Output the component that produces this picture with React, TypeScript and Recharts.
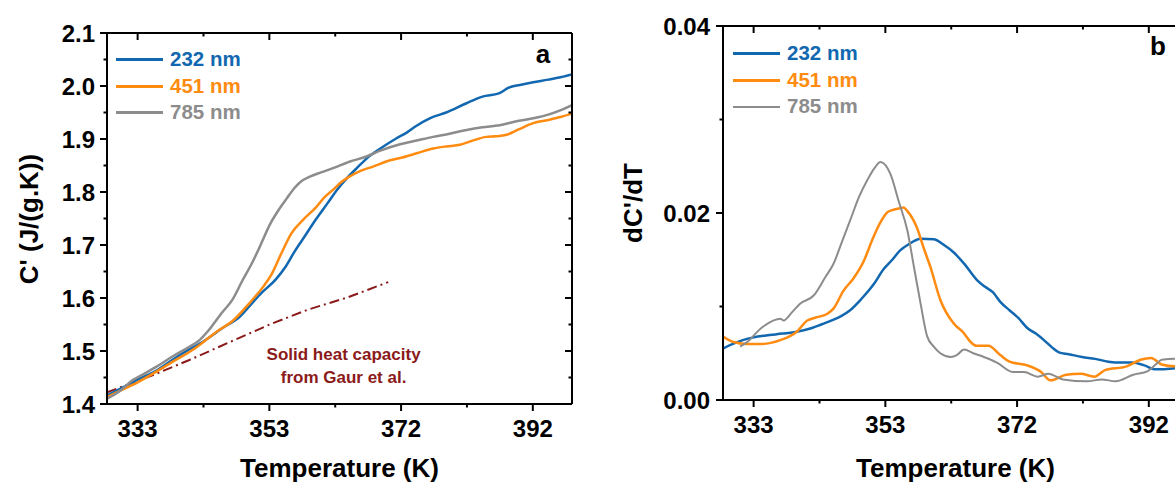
import React from 'react';
import { ComposedChart, Line, XAxis, YAxis, Legend, Customized } from 'recharts';

const FONT = '"Liberation Sans", Arial, sans-serif';
const BLUE = '#1268B0';
const ORANGE = '#FF8B10';
const GRAY = '#8C8C8C';
const DARKRED = '#8B1A1A';

const seriesNames = ['232 nm', '451 nm', '785 nm'];

// temperature axis (K): majors labelled, minors not
const tempDomain = [328.5, 399.1];
const tempMajor = [333.15, 353.15, 373.15, 393.15];
const tempMinor = [343.15, 363.15, 383.15];
const tempLabels = ['333', '353', '372', '392'];

const capMajor = [1.4, 1.5, 1.6, 1.7, 1.8, 1.9, 2.0, 2.1];
const capMinor = [1.45, 1.55, 1.65, 1.75, 1.85, 1.95, 2.05];

const derMajor = [0, 0.02, 0.04];
const derMinor = [0.01, 0.03];

// panel a: C' vs T
const capA232 = [
  [328.5, 1.416], [331, 1.432], [333.15, 1.446], [336, 1.463], [338.5, 1.484], [341, 1.503],
  [343, 1.517], [346, 1.543], [348.6, 1.564], [350.5, 1.59], [352, 1.61], [354.2, 1.636],
  [355.5, 1.657], [357, 1.688], [358.5, 1.716], [360.2, 1.748], [362, 1.779], [363.5, 1.805],
  [365, 1.827], [366.5, 1.846], [368, 1.864], [370, 1.882], [372.4, 1.901], [374, 1.912],
  [375.5, 1.925], [377.5, 1.939], [380, 1.95], [383, 1.967], [385.5, 1.98], [388, 1.986],
  [389.5, 1.997], [391.2, 2.002], [393.2, 2.007], [395.5, 2.012], [397.5, 2.017], [399.1, 2.022],
];
const capA451 = [
  [328.5, 1.413], [331, 1.428], [333.15, 1.441], [336, 1.461], [338.5, 1.48], [341, 1.498],
  [342.5, 1.511], [345.1, 1.536], [347.6, 1.557], [350.1, 1.59], [352.2, 1.621], [353.5, 1.645],
  [355, 1.685], [356.5, 1.722], [358.3, 1.748], [360.3, 1.772], [361.5, 1.79], [362.8, 1.804],
  [364, 1.818], [365.3, 1.829], [367, 1.84], [368.9, 1.848], [371, 1.858], [373, 1.864],
  [375.5, 1.873], [378, 1.882], [380, 1.886], [382.1, 1.889], [384, 1.897], [386.1, 1.904],
  [387.5, 1.905], [389.2, 1.908], [391, 1.918], [393.2, 1.93], [395.5, 1.936], [397.5, 1.942],
  [399.1, 1.948],
];
const capA785 = [
  [328.5, 1.41], [330.5, 1.425], [332.4, 1.445], [334, 1.456], [335.95, 1.47], [338.5, 1.49],
  [341, 1.508], [342.5, 1.52], [344, 1.54], [345.8, 1.57], [347.6, 1.598], [349.1, 1.634],
  [350.6, 1.668], [352, 1.705], [353.2, 1.738], [354.5, 1.765], [355.8, 1.788], [357, 1.808],
  [358.2, 1.822], [359.3, 1.829], [361, 1.837], [362.8, 1.845], [365.3, 1.857], [367.9, 1.867],
  [370, 1.878], [373, 1.89], [375.5, 1.897], [378, 1.904], [380.5, 1.91], [383.1, 1.917],
  [385.5, 1.922], [388.1, 1.926], [390.5, 1.933], [393.2, 1.939], [395.5, 1.946], [397.5, 1.955],
  [399.1, 1.964],
];
// solid heat capacity (Gaur et al.)
const capGaur = [
  [328.5, 1.422], [335, 1.452], [341, 1.483], [347, 1.516], [353.2, 1.55], [359, 1.578],
  [365, 1.601], [371.2, 1.63],
];

// panel b: dC'/dT vs T
const derB232 = [
  [328.5, 0.0055], [330, 0.006], [331.5, 0.0064], [333.15, 0.0067], [335, 0.0069], [337.5, 0.0071],
  [339.7, 0.0073], [342, 0.0077], [343.5, 0.0081], [345.3, 0.0086], [346.5, 0.009], [347.8, 0.0096],
  [349.5, 0.0108], [351.4, 0.0124], [352.9, 0.014], [354.2, 0.015], [355.4, 0.016], [356.8, 0.0167],
  [358.5, 0.01725], [360.5, 0.0172], [362, 0.0166], [363.5, 0.0158], [365.2, 0.0145], [367.1, 0.0128],
  [368.3, 0.0121], [369.5, 0.0115], [370.6, 0.0105], [372, 0.0096], [373.3, 0.0088], [374.7, 0.0077],
  [376, 0.0071], [377.4, 0.0063], [378.5, 0.0056], [379.5, 0.0051], [381, 0.0049], [383, 0.0046],
  [385, 0.0044], [387, 0.0041], [389, 0.004], [390.5, 0.004], [392.5, 0.0037], [394, 0.0033],
  [395.5, 0.0033], [397.2, 0.0034], [399.1, 0.0034],
];
const derB451 = [
  [328.5, 0.0068], [330.1, 0.0062], [332, 0.006], [334.5, 0.006], [337.2, 0.0064], [339.7, 0.0073],
  [341.3, 0.0085], [342.5, 0.0088], [344.3, 0.0092], [345.3, 0.0098], [346.8, 0.0117], [348.3, 0.013],
  [349.9, 0.0149], [351.2, 0.0172], [352.4, 0.019], [353.5, 0.0201], [354.4, 0.02035], [355.3, 0.0205],
  [355.9, 0.0206], [356.5, 0.0202], [357.9, 0.0185], [359, 0.0162], [360, 0.0142], [361.5, 0.0107],
  [363.5, 0.0082], [365, 0.0072], [366.1, 0.0062], [367, 0.0058], [368.8, 0.0058], [370.6, 0.0048],
  [372, 0.0041], [374.7, 0.0037], [376.8, 0.003], [378.2, 0.0021], [380.6, 0.0027], [382.8, 0.0028],
  [384.9, 0.0025], [386.5, 0.0032], [389.8, 0.0036], [391.9, 0.0043], [393.5, 0.0045], [395.1, 0.0038],
  [397.2, 0.0036], [399.1, 0.0036],
];
const derB785 = [
  [331.1, 0.0057], [332.5, 0.0064], [334, 0.0075], [334.9, 0.008], [337.2, 0.0087], [337.7, 0.0085],
  [339, 0.0094], [340.2, 0.0103], [342.3, 0.0112], [344, 0.0131], [345.3, 0.0146], [346.5, 0.0168],
  [347.8, 0.0192], [349.2, 0.0218], [350.4, 0.0235], [351.5, 0.0248], [352.4, 0.02545], [353.2, 0.0251],
  [353.9, 0.0242], [355.2, 0.0212], [356.5, 0.0181], [357.5, 0.0142], [358.5, 0.0103], [359.5, 0.0068],
  [360.5, 0.0057], [361.5, 0.005], [363.1, 0.0046], [364, 0.0048], [365.1, 0.0054], [366.5, 0.005],
  [368.1, 0.0046], [370.1, 0.004], [372.5, 0.003], [374.2, 0.003], [376.3, 0.0025], [377.9, 0.0028],
  [380.1, 0.0022], [383.8, 0.002], [386, 0.0022], [388.1, 0.002], [390.8, 0.0027], [393, 0.0031],
  [394.2, 0.0038], [395.1, 0.0043], [397.2, 0.0044], [399.1, 0.0044],
];

const toPoints = (arr: number[][]) => arr.map(([t, v]) => ({ t, v }));

type Side = 'bottom' | 'top' | 'left' | 'right';

function axisTick(side: Side, majors: number[], fmt: ((v: number) => string) | null, gap = 12) {
  return (props: any) => {
    const { x, y, payload } = props;
    const v = payload.value;
    const major = majors.includes(v);
    const len = major ? 7 : 3.5;
    let line;
    let label = null;
    if (side === 'bottom') {
      line = <line x1={x} x2={x} y1={y} y2={y + len} />;
      if (major && fmt) label = <text x={x} y={y + 33} textAnchor="middle">{fmt(v)}</text>;
    } else if (side === 'top') {
      line = <line x1={x} x2={x} y1={y} y2={y + len} />;
    } else if (side === 'left') {
      line = <line x1={x - len} x2={x} y1={y} y2={y} />;
      if (major && fmt)
        label = (
          <text x={x - gap} y={y + 8.6} textAnchor="end">
            {fmt(v)}
          </text>
        );
    } else {
      line = <line x1={x - len} x2={x} y1={y} y2={y} />;
    }
    return (
      <g stroke="#000" strokeWidth={2}>
        {line}
        {label && (
          <g stroke="none" fill="#000" fontFamily={FONT} fontWeight="bold" fontSize={24}>
            {label}
          </g>
        )}
      </g>
    );
  };
}

const tempFmt = (v: number) => tempLabels[tempMajor.indexOf(v)] ?? '';
const tempTicks = [...tempMajor, ...tempMinor].sort((a, b) => a - b);

function legendContent(widths: Record<string, number>) {
  return (props: any) => (
    <div style={{ fontFamily: FONT, fontWeight: 'bold', fontSize: 20.5 }}>
      {(props.payload || [])
        .filter((e: any) => seriesNames.includes(e.value))
        .map((e: any) => (
          <div key={e.value} style={{ display: 'flex', alignItems: 'center', height: 26.7 }}>
            <div style={{ width: 47, height: widths[e.value], background: e.color, marginRight: 7 }} />
            <span style={{ color: e.color, lineHeight: 1 }}>{e.value}</span>
          </div>
        ))}
    </div>
  );
}

const axisLine = { stroke: '#000', strokeWidth: 2 };

const TextA = () => (
  <g fontFamily={FONT} fontWeight="bold" fill="#000">
    <text x={38} y={219} transform="rotate(-90 38 219)" textAnchor="middle" fontSize={26}>
      C' (J/(g.K))
    </text>
    <text x={339.5} y={477} textAnchor="middle" fontSize={26}>
      Temperature (K)
    </text>
    <text x={543} y={63} textAnchor="middle" fontSize={26}>
      a
    </text>
    <text x={343.6} y={360} textAnchor="middle" fontSize={17} fill={DARKRED}>
      Solid heat capacity
    </text>
    <text x={343.6} y={383} textAnchor="middle" fontSize={17} fill={DARKRED}>
      from Gaur et al.
    </text>
  </g>
);

// panel b chart starts at page x = 600
const TextB = () => (
  <g fontFamily={FONT} fontWeight="bold" fill="#000">
    <text x={42} y={203} transform="rotate(-90 42 203)" textAnchor="middle" fontSize={26}>
      dC'/dT
    </text>
    <text x={355.5} y={477} textAnchor="middle" fontSize={26}>
      Temperature (K)
    </text>
    <text x={558} y={55} textAnchor="middle" fontSize={26}>
      b
    </text>
  </g>
);

function PanelA() {
  return (
    <ComposedChart width={600} height={482} margin={{ top: 0, right: 0, bottom: 0, left: 0 }}>
      <XAxis
        xAxisId="b" type="number" dataKey="t" domain={tempDomain} allowDataOverflow
        ticks={tempTicks} interval={0} height={78} tickSize={0} tickMargin={0} tickLine={false}
        axisLine={axisLine} tick={axisTick('bottom', tempMajor, tempFmt)}
      />
      <XAxis
        xAxisId="t" orientation="top" type="number" dataKey="t" domain={tempDomain} allowDataOverflow
        ticks={tempTicks} interval={0} height={33} tickSize={0} tickMargin={0} tickLine={false}
        axisLine={axisLine} tick={axisTick('top', tempMajor, null)}
      />
      <YAxis
        yAxisId="l" type="number" domain={[1.4, 2.1]} allowDataOverflow
        ticks={[...capMajor, ...capMinor].sort((a, b) => a - b)} interval={0} width={107}
        tickSize={0} tickMargin={0} tickLine={false} axisLine={axisLine}
        tick={axisTick('left', capMajor, (v) => v.toFixed(1), 12)}
      />
      <YAxis
        yAxisId="r" orientation="right" type="number" domain={[1.4, 2.1]} allowDataOverflow
        ticks={[...capMajor, ...capMinor].sort((a, b) => a - b)} interval={0} width={28}
        tickSize={0} tickMargin={0} tickLine={false} axisLine={axisLine}
        tick={axisTick('right', capMajor, null)}
      />
      <Line xAxisId="b" yAxisId="l" data={toPoints(capGaur)} dataKey="v" name="Gaur" legendType="none"
        type="linear" stroke={DARKRED} strokeWidth={2} strokeDasharray="10 4 2 4" dot={false} isAnimationActive={false} />
      <Line xAxisId="b" yAxisId="l" data={toPoints(capA232)} dataKey="v" name="232 nm"
        type="monotone" stroke={BLUE} strokeWidth={2.5} dot={false} isAnimationActive={false} />
      <Line xAxisId="b" yAxisId="l" data={toPoints(capA451)} dataKey="v" name="451 nm"
        type="monotone" stroke={ORANGE} strokeWidth={2.5} dot={false} isAnimationActive={false} />
      <Line xAxisId="b" yAxisId="l" data={toPoints(capA785)} dataKey="v" name="785 nm"
        type="monotone" stroke={GRAY} strokeWidth={2.5} dot={false} isAnimationActive={false} />
      <Legend
        layout="vertical" align="center" verticalAlign="middle"
        wrapperStyle={{ left: 116, top: 46, width: 'auto', height: 'auto' }}
        content={legendContent({ '232 nm': 3, '451 nm': 3, '785 nm': 3 })}
      />
      <Customized component={TextA} />
    </ComposedChart>
  );
}

function PanelB() {
  return (
    <ComposedChart width={620} height={482} margin={{ top: 0, right: 0, bottom: 0, left: 0 }}>
      <XAxis
        xAxisId="b" type="number" dataKey="t" domain={tempDomain} allowDataOverflow
        ticks={tempTicks} interval={0} height={82} tickSize={0} tickMargin={0} tickLine={false}
        axisLine={axisLine} tick={axisTick('bottom', tempMajor, tempFmt)}
      />
      <XAxis
        xAxisId="t" orientation="top" type="number" dataKey="t" domain={tempDomain} allowDataOverflow
        ticks={tempTicks} interval={0} height={26} tickSize={0} tickMargin={0} tickLine={false}
        axisLine={axisLine} tick={axisTick('top', tempMajor, null)}
      />
      <YAxis
        yAxisId="l" type="number" domain={[0, 0.04]} allowDataOverflow
        ticks={[...derMajor, ...derMinor].sort((a, b) => a - b)} interval={0} width={123}
        tickSize={0} tickMargin={0} tickLine={false} axisLine={axisLine}
        tick={axisTick('left', derMajor, (v) => v.toFixed(2), 13)}
      />
      <YAxis
        yAxisId="r" orientation="right" type="number" domain={[0, 0.04]} allowDataOverflow
        ticks={[...derMajor, ...derMinor].sort((a, b) => a - b)} interval={0} width={32}
        tickSize={0} tickMargin={0} tickLine={false} axisLine={axisLine}
        tick={axisTick('right', derMajor, null)}
      />
      <Line xAxisId="b" yAxisId="l" data={toPoints(derB232)} dataKey="v" name="232 nm"
        type="monotone" stroke={BLUE} strokeWidth={2.5} dot={false} isAnimationActive={false} />
      <Line xAxisId="b" yAxisId="l" data={toPoints(derB451)} dataKey="v" name="451 nm"
        type="monotone" stroke={ORANGE} strokeWidth={2.5} dot={false} isAnimationActive={false} />
      <Line xAxisId="b" yAxisId="l" data={toPoints(derB785)} dataKey="v" name="785 nm"
        type="monotone" stroke={GRAY} strokeWidth={2} dot={false} isAnimationActive={false} />
      <Legend
        layout="vertical" align="center" verticalAlign="middle"
        wrapperStyle={{ left: 133, top: 40, width: 'auto', height: 'auto' }}
        content={legendContent({ '232 nm': 3, '451 nm': 3, '785 nm': 2 })}
      />
      <Customized component={TextB} />
    </ComposedChart>
  );
}

export default function App() {
  return (
    <div
      style={{
        position: 'absolute', left: 0, top: 0, width: 1175, height: 482,
        overflow: 'hidden', background: '#fff', fontFamily: FONT,
      }}
    >
      <div style={{ position: 'absolute', left: 0, top: 0 }}>
        <PanelA />
      </div>
      <div style={{ position: 'absolute', left: 600, top: 0 }}>
        <PanelB />
      </div>
    </div>
  );
}
